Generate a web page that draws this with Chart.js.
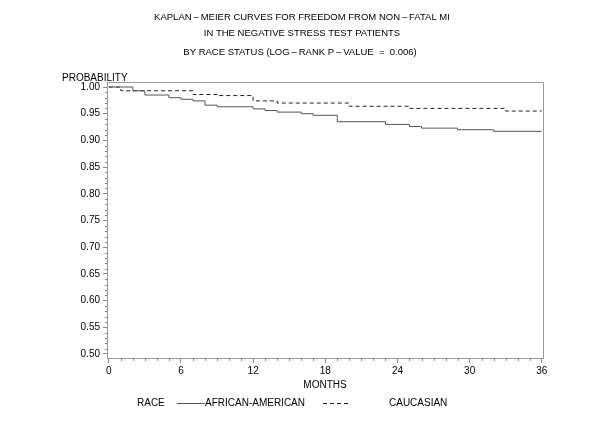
<!DOCTYPE html>
<html>
<head>
<meta charset="utf-8">
<script src="https://cdn.jsdelivr.net/npm/chart.js@4.4.0/dist/chart.umd.min.js"></script>
<style>
  html, body { margin: 0; padding: 0; background: #fff; }
</style>
</head>
<body>
<canvas id="km" width="600" height="429"></canvas>
<script>
const titleLines = [
  'KAPLAN\u2009–\u2009MEIER CURVES FOR FREEDOM FROM NON\u2009–\u2009FATAL MI',
  'IN THE NEGATIVE STRESS TEST PATIENTS',
  'BY RACE STATUS (LOG\u2009–\u2009RANK P\u2009–\u2009VALUE  =  0.006)'
];
const seriesNames = ['AFRICAN-AMERICAN', 'CAUCASIAN'];
const xTicks = [0, 6, 12, 18, 24, 30, 36];
const yTicks = [0.50, 0.55, 0.60, 0.65, 0.70, 0.75, 0.80, 0.85, 0.90, 0.95, 1.00];

// step times (months) and survival after each step
const aaMonths = [0, 2, 3, 5, 6, 7, 8, 9, 12, 13, 14, 16, 17, 19, 23, 25, 26, 29, 32, 36];
const aaSurv = [1.000, 0.993, 0.985, 0.980, 0.977, 0.974, 0.966, 0.963, 0.959, 0.956, 0.953, 0.950, 0.947, 0.935, 0.930, 0.926, 0.923, 0.920, 0.917, 0.917];
const caMonths = [0, 1, 7, 9, 12, 14, 20, 25, 33, 36];
const caSurv = [1.000, 0.993, 0.986, 0.984, 0.974, 0.970, 0.964, 0.960, 0.955, 0.955];

const FONT = '"Liberation Sans", Arial, Helvetica, sans-serif';

function pts(xs, ys) {
  return xs.map((m, i) => ({ x: m, y: ys[i] }));
}

const decor = {
  id: 'decor',
  afterDraw(chart) {
    const { ctx, chartArea: a, scales: { x, y } } = chart;
    ctx.save();
    // frame top + right
    ctx.strokeStyle = '#999';
    ctx.lineWidth = 1;
    ctx.beginPath();
    ctx.moveTo(a.left, a.top + 0.5);
    ctx.lineTo(a.right + 0.5, a.top + 0.5);
    ctx.lineTo(a.right + 0.5, a.bottom);
    ctx.stroke();

    // minor ticks
    ctx.strokeStyle = '#888';
    ctx.beginPath();
    for (let m = 0; m <= 36; m++) {
      if (m % 6 === 0) continue;
      const px = Math.round(x.getPixelForValue(m)) + 0.5;
      ctx.moveTo(px, a.bottom);
      ctx.lineTo(px, a.bottom + 3);
    }
    for (let i = 50; i <= 100; i++) {
      if (i % 5 === 0) continue;
      const py = Math.round(y.getPixelForValue(i / 100)) + 0.5;
      ctx.moveTo(a.left, py);
      ctx.lineTo(a.left - 2, py);
    }
    ctx.stroke();

    // titles
    ctx.fillStyle = '#000';
    ctx.font = '9.5px ' + FONT;
    ctx.textAlign = 'center';
    ctx.textBaseline = 'middle';
    ctx.fillText(titleLines[0], 302, 17);
    ctx.fillText(titleLines[1], 302, 33);
    ctx.fillText(titleLines[2], 300, 52);

    ctx.font = '10px ' + FONT;
    ctx.textAlign = 'left';
    ctx.fillText('PROBABILITY', 62, 78);

    // legend
    const ly = 403;
    ctx.fillText('RACE', 137, ly);
    const ds = chart.data.datasets;
    ctx.lineWidth = 1;
    ctx.strokeStyle = ds[0].borderColor;
    ctx.setLineDash(ds[0].borderDash);
    ctx.beginPath();
    ctx.moveTo(177, ly + 0.5);
    ctx.lineTo(205, ly + 0.5);
    ctx.stroke();
    ctx.fillText(ds[0].label, 205, ly);
    ctx.strokeStyle = ds[1].borderColor;
    ctx.setLineDash(ds[1].borderDash);
    ctx.beginPath();
    ctx.moveTo(323, ly + 0.5);
    ctx.lineTo(351, ly + 0.5);
    ctx.stroke();
    ctx.setLineDash([]);
    ctx.fillText(ds[1].label, 389, ly);
    ctx.restore();
  }
};

new Chart(document.getElementById('km'), {
  type: 'line',
  data: {
    datasets: [
      { label: seriesNames[0], data: pts(aaMonths, aaSurv), borderColor: '#555', borderWidth: 1, borderDash: [], stepped: 'before', pointRadius: 0 },
      { label: seriesNames[1], data: pts(caMonths, caSurv), borderColor: '#222', borderWidth: 1, borderDash: [4, 3], stepped: 'before', pointRadius: 0 }
    ]
  },
  options: {
    responsive: false,
    animation: false,
    layout: { padding: { top: 82, right: 57, bottom: 38, left: 0 } },
    plugins: { legend: { display: false }, title: { display: false }, tooltip: { enabled: false } },
    scales: {
      x: {
        type: 'linear',
        min: -0.15,
        max: 36.1,
        afterBuildTicks: s => { s.ticks = xTicks.map(v => ({ value: v })); },
        afterFit: s => { s.height = 33; },
        grid: { drawOnChartArea: false, drawTicks: true, tickLength: 5, tickColor: '#888' },
        border: { color: '#999' },
        ticks: { color: '#000', font: { size: 10, family: FONT }, padding: 2, maxRotation: 0, autoSkip: false },
        title: { display: true, text: 'MONTHS', color: '#000', font: { size: 10, family: FONT }, padding: 0 }
      },
      y: {
        type: 'linear',
        min: 0.4925,
        max: 1.0094,
        afterBuildTicks: s => { s.ticks = yTicks.map(v => ({ value: v })); },
        afterFit: s => { s.width = 107; },
        grid: { drawOnChartArea: false, drawTicks: true, tickLength: 4, tickColor: '#888' },
        border: { color: '#999' },
        ticks: { color: '#000', font: { size: 10, family: FONT }, padding: 3, autoSkip: false, callback: v => v.toFixed(2) }
      }
    }
  },
  plugins: [decor]
});
</script>
</body>
</html>
